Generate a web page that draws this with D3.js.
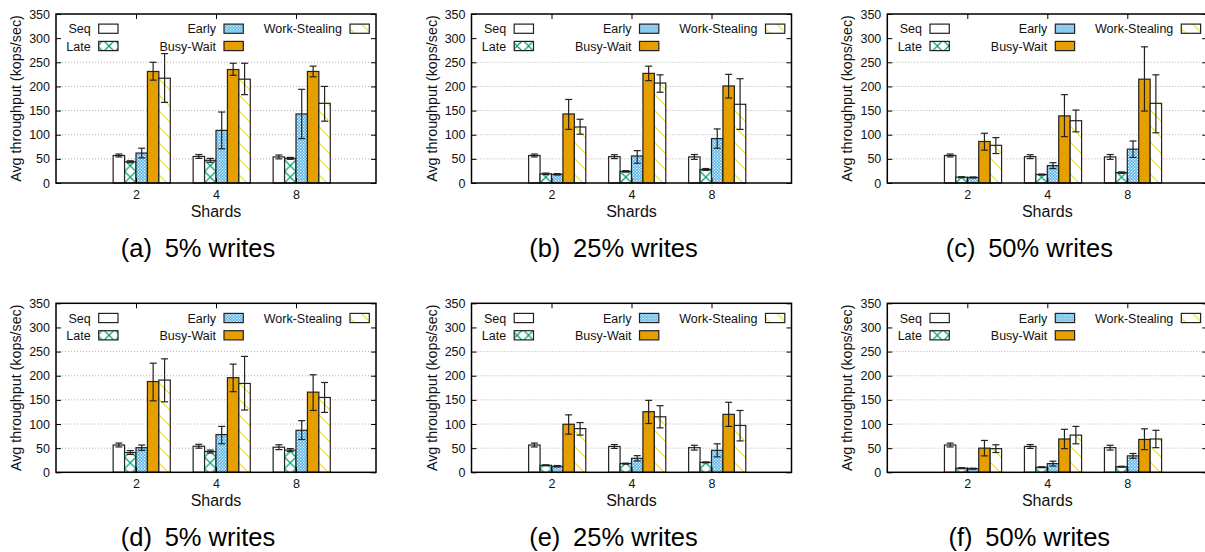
<!DOCTYPE html>
<html>
<head>
<meta charset="utf-8">
<script src="https://cdn.jsdelivr.net/npm/d3@7/dist/d3.min.js"></script>
<style>
  html, body { margin: 0; padding: 0; background: #fff; }
  svg { display: block; font-family: "Liberation Sans", Arial, Helvetica, sans-serif; }
</style>
</head>
<body>
<svg id="chart" width="1205" height="552"></svg>
<script>
// ---------- data ----------
const shards = ["2", "4", "8"];
const seriesNames = ["Seq", "Late", "Early", "Busy-Wait", "Work-Stealing"];
const yTicks = [0, 50, 100, 150, 200, 250, 300, 350];
const gridTicks = [50, 100, 150, 200, 250];
const captionLetters = ["(a)", "(b)", "(c)", "(d)", "(e)", "(f)"];
const captionTexts = ["5% writes", "25% writes", "50% writes", "5% writes", "25% writes", "50% writes"];

// rows = shards (2,4,8); columns = series (Seq, Late, Early, Busy-Wait, Work-Stealing)
const meanA = [[57, 44, 62, 231, 217], [55, 47, 109, 235, 215], [54, 51, 143, 231, 165]];
const lowA  = [[54, 42, 52, 213, 167], [51, 43, 71, 223, 183], [50, 49, 92, 220, 128]];
const highA = [[60, 46, 72, 250, 268], [59, 51, 147, 248, 248], [58, 53, 194, 242, 200]];

const meanB = [[57, 19, 18, 143, 116], [54.5, 24, 56, 227, 207], [54, 28, 92, 201, 163]];
const lowB  = [[54, 17.5, 16.5, 111, 101], [50.5, 22.5, 41, 212, 188], [49, 26, 72, 176, 111]];
const highB = [[60, 20.5, 19.5, 173, 132], [58.5, 25.5, 67, 242, 224], [59, 30, 112, 225, 216]];

const meanC = [[57, 12, 11.5, 86, 78], [54.5, 17.5, 36, 139, 129], [54, 21.5, 70, 215, 165]];
const lowC  = [[54, 11, 10.5, 68, 61], [50.5, 16.5, 30, 96, 106], [49, 20, 53, 149, 104]];
const highC = [[60, 13, 12.5, 103, 94], [58.5, 18.5, 42, 183, 151], [59, 23, 87, 282, 224]];

const meanD = [[56.5, 41, 51, 188, 191], [54, 43, 78, 196, 184], [52, 46, 87, 166, 155]];
const lowD  = [[52.5, 37, 45.5, 148, 146], [50, 40, 59, 167, 129], [47, 43, 68, 128, 124]];
const highD = [[60.5, 45, 56.5, 226, 235], [58, 46, 95, 224, 240], [57, 49, 107, 202, 186]];

const meanE = [[56.5, 14.5, 12.5, 99.5, 90.5], [53.5, 18, 29, 125.5, 115], [51, 20.5, 45.5, 120, 97]];
const lowE  = [[52.5, 13.5, 11, 79, 77], [49.5, 17, 23.5, 101, 92], [46, 19.5, 32, 95, 65]];
const highE = [[60.5, 15.5, 14, 119, 103], [57.5, 19, 34.5, 149, 138], [56, 21.5, 59, 145, 128]];

const meanF = [[56.5, 8.5, 7.5, 50, 49], [53.5, 10.5, 18, 69, 77], [51, 11.5, 34, 68, 69]];
const lowF  = [[52.5, 7.5, 6.5, 34, 41], [49.5, 9.5, 13, 49, 59], [46, 10.5, 29, 47, 51]];
const highF = [[60.5, 9.5, 8.5, 66, 57], [57.5, 11.5, 23, 89, 95], [56, 12.5, 39, 90, 87]];

const panelMeans = [meanA, meanB, meanC, meanD, meanE, meanF];
const panelLows  = [lowA, lowB, lowC, lowD, lowE, lowF];
const panelHighs = [highA, highB, highC, highD, highE, highF];

// ---------- layout ----------
const panelLefts = [56, 471.5, 887.3];
const panelTops = [14, 303.3];
const plotW = 320, plotH = 169;
const groupW = plotW / 4;
const bw = groupW / 7;

const svg = d3.select("#chart");
const defs = svg.append("defs");

function makePatterns(idx, left) {
  // Late: green crosshatch
  const pl = defs.append("pattern").attr("id", "late" + idx)
    .attr("patternUnits", "userSpaceOnUse").attr("x", left).attr("y", 0)
    .attr("width", bw).attr("height", bw);
  pl.append("rect").attr("width", bw).attr("height", bw).attr("fill", "#fff");
  pl.append("path").attr("d", `M0,0L${bw},${bw}M${bw},0L0,${bw}`)
    .attr("stroke", "#009e73").attr("stroke-width", 1.2).attr("fill", "none");
  // Early: blue checker
  const pe = defs.append("pattern").attr("id", "early" + idx)
    .attr("patternUnits", "userSpaceOnUse").attr("width", 3).attr("height", 3);
  pe.append("rect").attr("width", 3).attr("height", 3).attr("fill", "#56b4e9");
  pe.append("rect").attr("width", 1.2).attr("height", 1.2).attr("fill", "#fff");
  pe.append("rect").attr("x", 1.5).attr("y", 1.5).attr("width", 1.2).attr("height", 1.2).attr("fill", "#fff");
  // Work-Stealing: yellow diagonal "\"
  const pw = defs.append("pattern").attr("id", "ws" + idx)
    .attr("patternUnits", "userSpaceOnUse").attr("width", 16).attr("height", 16);
  pw.append("rect").attr("width", 16).attr("height", 16).attr("fill", "#fff");
  pw.append("path").attr("d", "M0,0L16,16M-4,12L4,20M12,-4L20,4")
    .attr("stroke", "#f0e442").attr("stroke-width", 1.3).attr("fill", "none");
}

function fillFor(j, idx) {
  return ["#ffffff", `url(#late${idx})`, `url(#early${idx})`, "#e69f00", `url(#ws${idx})`][j];
}

for (let p = 0; p < 6; p++) {
  const col = p % 3, row = Math.floor(p / 3);
  const left = panelLefts[col], top = panelTops[row];
  const right = left + plotW, bottom = top + plotH;
  makePatterns(p, left);

  const y = d3.scaleLinear().domain([0, 350]).range([bottom, top]);
  const x = d3.scalePoint().domain(shards).range([left + groupW, left + 3 * groupW]);
  const xs = d3.scaleBand().domain(seriesNames).range([-2 * bw, 3 * bw]).padding(0);

  const g = svg.append("g");

  // grid
  g.selectAll(".grid").data(gridTicks).join("line")
    .attr("x1", left).attr("x2", right)
    .attr("y1", d => y(d)).attr("y2", d => y(d))
    .attr("stroke", "#b0b0b0").attr("stroke-width", 1).attr("stroke-dasharray", "1,2");

  const means = panelMeans[p], lows = panelLows[p], highs = panelHighs[p];
  const recs = [];
  shards.forEach((s, i) => seriesNames.forEach((n, j) => {
    recs.push({ s, n, j, v: means[i][j], lo: lows[i][j], hi: highs[i][j] });
  }));

  // bars
  g.selectAll(".bar").data(recs).join("rect")
    .attr("x", d => x(d.s) + xs(d.n))
    .attr("y", d => y(d.v))
    .attr("width", xs.bandwidth())
    .attr("height", d => y(0) - y(d.v))
    .attr("fill", d => fillFor(d.j, p))
    .attr("stroke", "#222").attr("stroke-width", 1.2);

  // error bars
  const eb = g.selectAll(".eb").data(recs).join("g");
  eb.append("line")
    .attr("x1", d => x(d.s) + xs(d.n) + bw / 2).attr("x2", d => x(d.s) + xs(d.n) + bw / 2)
    .attr("y1", d => y(d.lo)).attr("y2", d => y(d.hi));
  eb.append("line")
    .attr("x1", d => x(d.s) + xs(d.n) + bw / 2 - 3.5).attr("x2", d => x(d.s) + xs(d.n) + bw / 2 + 3.5)
    .attr("y1", d => y(d.lo)).attr("y2", d => y(d.lo));
  eb.append("line")
    .attr("x1", d => x(d.s) + xs(d.n) + bw / 2 - 3.5).attr("x2", d => x(d.s) + xs(d.n) + bw / 2 + 3.5)
    .attr("y1", d => y(d.hi)).attr("y2", d => y(d.hi));
  eb.selectAll("line").attr("stroke", "#222").attr("stroke-width", 1.2);

  // axes
  const axL = g.append("g").attr("transform", `translate(${left},0)`)
    .call(d3.axisLeft(y).tickValues(yTicks).tickSizeInner(-5).tickSizeOuter(0).tickPadding(6));
  const axR = g.append("g").attr("transform", `translate(${right},0)`)
    .call(d3.axisRight(y).tickValues(yTicks).tickSizeInner(-5).tickSizeOuter(0).tickFormat(""));
  const axB = g.append("g").attr("transform", `translate(0,${bottom})`)
    .call(d3.axisBottom(x).tickSizeInner(-5).tickSizeOuter(0).tickPadding(7));
  const axT = g.append("g").attr("transform", `translate(0,${top})`)
    .call(d3.axisTop(x).tickSizeInner(-5).tickSizeOuter(0).tickFormat(""));
  [axL, axR, axB, axT].forEach(a => {
    a.select(".domain").remove();
    a.selectAll("line").attr("stroke", "#000").attr("stroke-width", 1);
    a.selectAll("text").attr("fill", "#111").attr("font-size", "12.5px")
      .attr("font-family", "'Liberation Sans', Arial, sans-serif");
  });

  // frame
  g.append("rect").attr("x", left).attr("y", top).attr("width", plotW).attr("height", plotH)
    .attr("fill", "none").attr("stroke", "#000").attr("stroke-width", 1.5);

  // legend
  const legendItems = [
    { n: "Seq", j: 0, c: 0, r: 0 },
    { n: "Late", j: 1, c: 0, r: 1 },
    { n: "Early", j: 2, c: 1, r: 0 },
    { n: "Busy-Wait", j: 3, c: 1, r: 1 },
    { n: "Work-Stealing", j: 4, c: 2, r: 0 }
  ];
  const colX = [42.7, 168, 294];
  const rowY = [14.7, 32];
  const lg = g.selectAll(".lg").data(legendItems).join("g")
    .attr("transform", d => `translate(${left + colX[d.c]},${top + rowY[d.r]})`);
  lg.append("rect").attr("x", 0).attr("y", -4.6).attr("width", 19.3).attr("height", 9.2)
    .attr("fill", d => fillFor(d.j, p)).attr("stroke", "#222").attr("stroke-width", 1.2);
  lg.append("text").attr("x", -8).attr("y", 4.5).attr("text-anchor", "end")
    .attr("font-size", "12.5px").attr("fill", "#111").text(d => d.n);

  // axis titles
  g.append("text")
    .attr("transform", `translate(${left - 40},${(top + bottom) / 2}) rotate(-90)`)
    .attr("text-anchor", "middle").attr("dominant-baseline", "central")
    .attr("font-size", "14.3px").attr("fill", "#111")
    .text("Avg throughput (kops/sec)");
  g.append("text").attr("x", (left + right) / 2).attr("y", bottom + 33.5)
    .attr("text-anchor", "middle").attr("font-size", "16px").attr("fill", "#111")
    .text("Shards");

  // caption
  g.append("text").attr("x", left + 142).attr("y", bottom + 73.5)
    .attr("text-anchor", "middle").attr("font-size", "25.5px").attr("fill", "#000")
    .text(captionLetters[p] + "\u2002" + captionTexts[p]);
}
</script>
</body>
</html>
